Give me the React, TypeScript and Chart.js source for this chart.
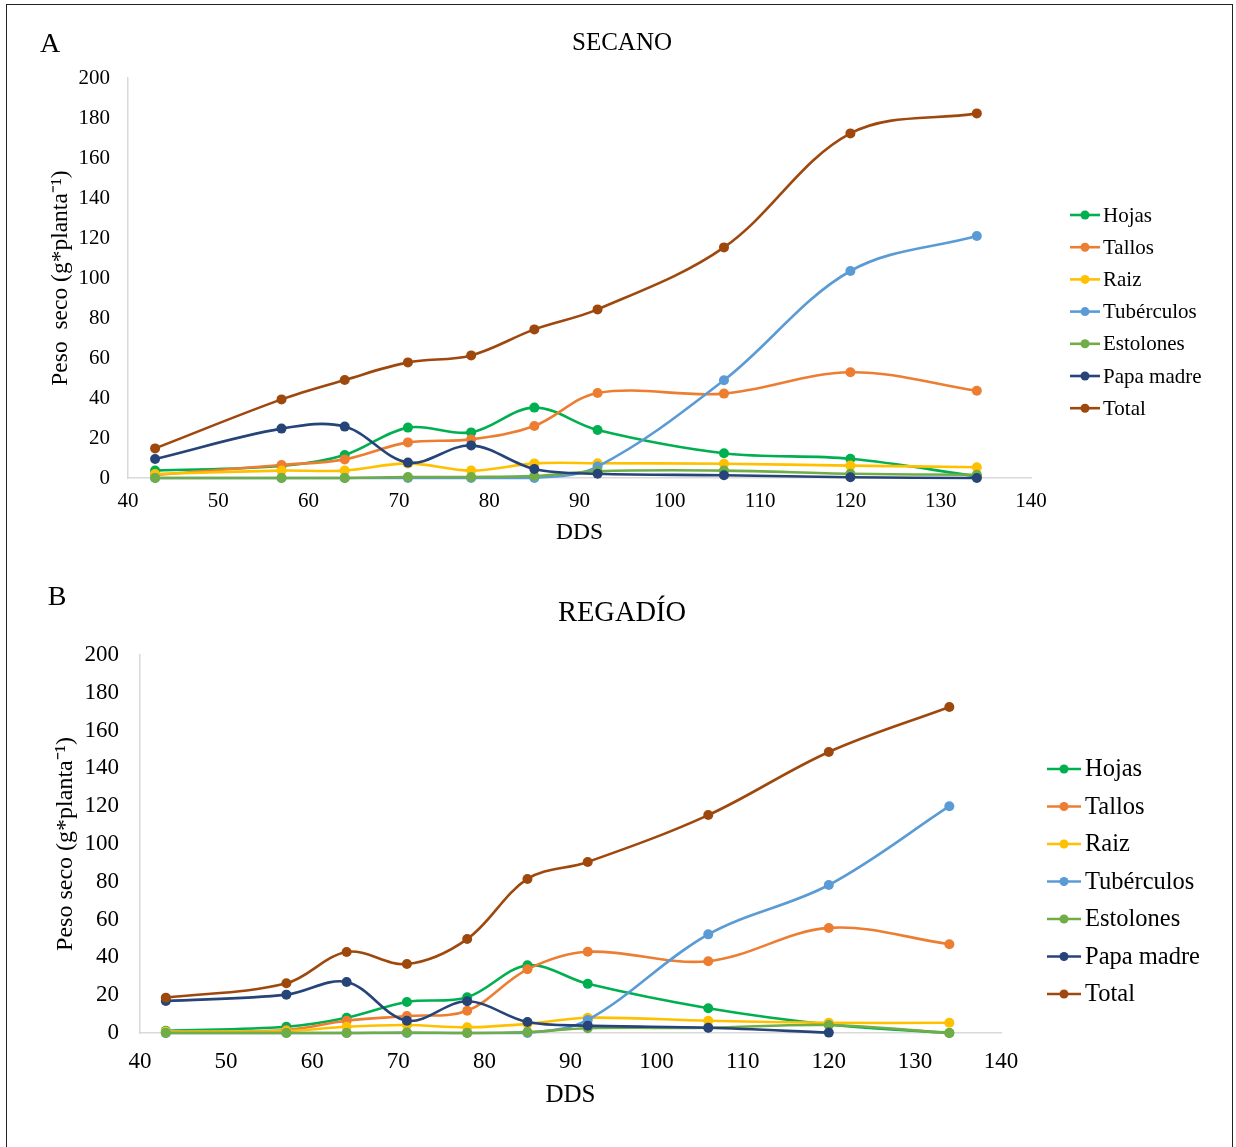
import React, { useEffect, useRef } from "react";
import { Chart, registerables } from "chart.js";

Chart.register(...registerables);

const DDS = [43, 57, 64, 71, 78, 85, 92, 106, 120, 134];
const SERIES_NAMES = ["Hojas", "Tallos", "Raiz", "Tubérculos", "Estolones", "Papa madre", "Total"];
const SERIES_COLORS = ["#00B050", "#ED7D31", "#FFC000", "#5B9BD5", "#70AD47", "#264478", "#9E480E"];
const X_TICKS = [40, 50, 60, 70, 80, 90, 100, 110, 120, 130, 140];
const Y_TICKS = [0, 20, 40, 60, 80, 100, 120, 140, 160, 180, 200];

// SECANO (A)
const secanoHojas = [3.7, 6, 11.5, 25.2, 22.8, 35.2, 24, 12.4, 9.6, 0.8];
const secanoTallos = [1.5, 6.5, 9.3, 17.8, 19.3, 26, 42.5, 42.2, 52.9, 43.6];
const secanoRaiz = [2, 3.7, 3.7, 7.3, 3.7, 7.3, 7.4, 7.1, 6.2, 5.4];
const secanoTuberculos = [0, 0, 0, 0, 0, 0, 5.7, 48.9, 103.5, 121];
const secanoEstolones = [0, 0, 0, 0.5, 0.5, 1, 3.4, 3.7, 2.1, 1.6];
const secanoPapaMadre = [9.5, 24.7, 25.7, 7.7, 16.3, 4.5, 2.1, 1.4, 0.4, 0];
const secanoTotal = [14.8, 39.3, 49, 57.8, 61.3, 74.3, 84.3, 115.3, 172.3, 182.3];

// REGADÍO (B)
const regadioHojas = [1.2, 3.3, 8.1, 16.4, 18.9, 35.8, 26, 13.1, 4.5, 0];
const regadioTallos = [0.5, 1.6, 6.5, 9, 11.8, 33.7, 43, 38, 55.6, 47];
const regadioRaiz = [0.8, 1, 3.3, 4.2, 3, 4.8, 8.1, 6.5, 5.4, 5.4];
const regadioTuberculos = [0, 0, 0, 0, 0, 0, 6.9, 52.2, 78.3, 120];
const regadioEstolones = [0, 0, 0, 0.3, 0, 0.5, 2.5, 2.8, 4.2, 0];
const regadioPapaMadre = [16.9, 20.3, 27, 6.5, 16.8, 5.8, 3.9, 2.8, 0.2, null];
const regadioTotal = [18.7, 26.3, 42.9, 36.5, 49.7, 81.5, 90.5, 115.3, 148.7, 172.5];

const SECANO = [secanoHojas, secanoTallos, secanoRaiz, secanoTuberculos, secanoEstolones, secanoPapaMadre, secanoTotal];
const REGADIO = [regadioHojas, regadioTallos, regadioRaiz, regadioTuberculos, regadioEstolones, regadioPapaMadre, regadioTotal];

const FONT = "'Liberation Serif', 'Times New Roman', serif";

type Panel = {
  letter: string;
  title: string;
  series: (number | null)[][];
  height: number;
  letterPos: [number, number];
  titlePos: [number, number];
  titleSize: number;
  padding: { left: number; right: number; top: number; bottom: number };
  yWidth: number;
  xHeight: number;
  tickSize: number;
  yTickPad: number;
  xTickPad: number;
  yTitleSize: number;
  yTitlePadTop: number;
  yTitle: string;
  xTitleSize: number;
  xTitlePadBottom: number;
  legend: { lineX0: number; lineX1: number; textX: number; y0: number; dy: number; size: number };
};

function makeConfig(p: Panel): any {
  const datasets = SERIES_NAMES.map((name, i) => ({
    label: name,
    data: DDS.map((x, j) => ({ x, y: p.series[i][j] })),
    borderColor: SERIES_COLORS[i],
    backgroundColor: SERIES_COLORS[i],
    pointBackgroundColor: SERIES_COLORS[i],
    pointBorderWidth: 0,
    pointRadius: 5,
    borderWidth: 2.6,
    tension: 0.35,
    fill: false,
    clip: false,
    spanGaps: false,
    order: SERIES_NAMES.length - i,
  }));

  const decor = {
    id: "decor",
    afterDraw(chart: any) {
      const ctx = chart.ctx;
      ctx.save();
      ctx.fillStyle = "#000";
      ctx.textBaseline = "middle";
      ctx.textAlign = "center";
      ctx.font = `${p.titleSize}px ${FONT}`;
      ctx.fillText(p.title, p.titlePos[0], p.titlePos[1]);
      ctx.font = `28px ${FONT}`;
      ctx.fillText(p.letter, p.letterPos[0], p.letterPos[1]);
      const L = p.legend;
      chart.data.datasets.forEach((ds: any, i: number) => {
        const y = L.y0 + i * L.dy;
        ctx.strokeStyle = ds.borderColor;
        ctx.lineWidth = 2.6;
        ctx.beginPath();
        ctx.moveTo(L.lineX0, y);
        ctx.lineTo(L.lineX1, y);
        ctx.stroke();
        ctx.fillStyle = ds.borderColor;
        ctx.beginPath();
        ctx.arc((L.lineX0 + L.lineX1) / 2, y, 4.5, 0, Math.PI * 2);
        ctx.fill();
        ctx.fillStyle = "#000";
        ctx.textAlign = "left";
        ctx.font = `${L.size}px ${FONT}`;
        ctx.fillText(ds.label, L.textX, y + 1);
      });
      ctx.restore();
    },
  };

  return {
    type: "line",
    data: { datasets },
    plugins: [decor],
    options: {
      animation: false,
      responsive: false,
      devicePixelRatio: 1,
      layout: { padding: p.padding },
      plugins: { legend: { display: false }, title: { display: false }, tooltip: { enabled: false } },
      scales: {
        x: {
          type: "linear",
          min: 40,
          max: 140,
          afterBuildTicks: (scale: any) => {
            scale.ticks = X_TICKS.map((v) => ({ value: v }));
          },
          afterFit: (scale: any) => {
            scale.height = p.xHeight;
          },
          grid: { display: true, drawOnChartArea: false, drawTicks: false },
          border: { display: true, color: "#d9d9d9", width: 1.5 },
          ticks: {
            color: "#000",
            padding: p.xTickPad,
            maxRotation: 0,
            autoSkip: false,
            font: { family: FONT, size: p.tickSize },
          },
          title: {
            display: true,
            text: "DDS",
            color: "#000",
            font: { family: FONT, size: p.xTitleSize },
            padding: { top: 0, bottom: p.xTitlePadBottom },
          },
        },
        y: {
          type: "linear",
          min: 0,
          max: 200,
          afterBuildTicks: (scale: any) => {
            scale.ticks = Y_TICKS.map((v) => ({ value: v }));
          },
          afterFit: (scale: any) => {
            scale.width = p.yWidth;
          },
          grid: { display: true, drawOnChartArea: false, drawTicks: false },
          border: { display: true, color: "#d9d9d9", width: 1.5 },
          ticks: {
            color: "#000",
            padding: p.yTickPad,
            autoSkip: false,
            font: { family: FONT, size: p.tickSize },
          },
          title: {
            display: true,
            text: p.yTitle,
            color: "#000",
            font: { family: FONT, size: p.yTitleSize },
            padding: { top: p.yTitlePadTop, bottom: 0 },
          },
        },
      },
    },
  };
}

const PANEL_A: Panel = {
  letter: "A",
  title: "SECANO",
  series: SECANO,
  height: 560,
  letterPos: [50, 45],
  titlePos: [622, 43],
  titleSize: 25,
  padding: { left: 40, right: 205, top: 78, bottom: 12 },
  yWidth: 88,
  xHeight: 70,
  tickSize: 21,
  yTickPad: 18,
  xTickPad: 11,
  yTitleSize: 23.5,
  yTitlePadTop: 7,
  yTitle: "Peso  seco (g*planta⁻¹)",
  xTitleSize: 23.5,
  xTitlePadBottom: 1,
  legend: { lineX0: 1070, lineX1: 1100, textX: 1103, y0: 215, dy: 32.2, size: 21 },
};

const PANEL_B: Panel = {
  letter: "B",
  title: "REGADÍO",
  series: REGADIO,
  height: 587,
  letterPos: [57, 38],
  titlePos: [622, 54],
  titleSize: 28.5,
  padding: { left: 44, right: 235, top: 95, bottom: 20 },
  yWidth: 96,
  xHeight: 94,
  tickSize: 23,
  yTickPad: 21,
  xTickPad: 15,
  yTitleSize: 24,
  yTitlePadTop: 7.5,
  yTitle: "Peso seco (g*planta⁻¹)",
  xTitleSize: 25,
  xTitlePadBottom: 17,
  legend: { lineX0: 1047, lineX1: 1081, textX: 1085, y0: 209, dy: 37.5, size: 24.5 },
};

function ChartCanvas({ panel, top }: { panel: Panel; top: number }) {
  const ref = useRef<HTMLCanvasElement | null>(null);
  useEffect(() => {
    if (!ref.current) return;
    const chart = new Chart(ref.current, makeConfig(panel));
    return () => chart.destroy();
  }, [panel]);
  return (
    <canvas
      ref={ref}
      width={1236}
      height={panel.height}
      style={{ position: "absolute", left: 0, top, width: 1236, height: panel.height }}
    />
  );
}

export default function App() {
  return (
    <div
      style={{
        position: "absolute",
        left: 0,
        top: 0,
        width: 1236,
        height: 1147,
        background: "#fff",
        overflow: "hidden",
      }}
    >
      <div
        style={{
          position: "absolute",
          left: 6,
          top: 4,
          width: 1227,
          height: 1160,
          border: "1.5px solid #222",
          boxSizing: "border-box",
        }}
      />
      <ChartCanvas panel={PANEL_A} top={0} />
      <ChartCanvas panel={PANEL_B} top={560} />
    </div>
  );
}
